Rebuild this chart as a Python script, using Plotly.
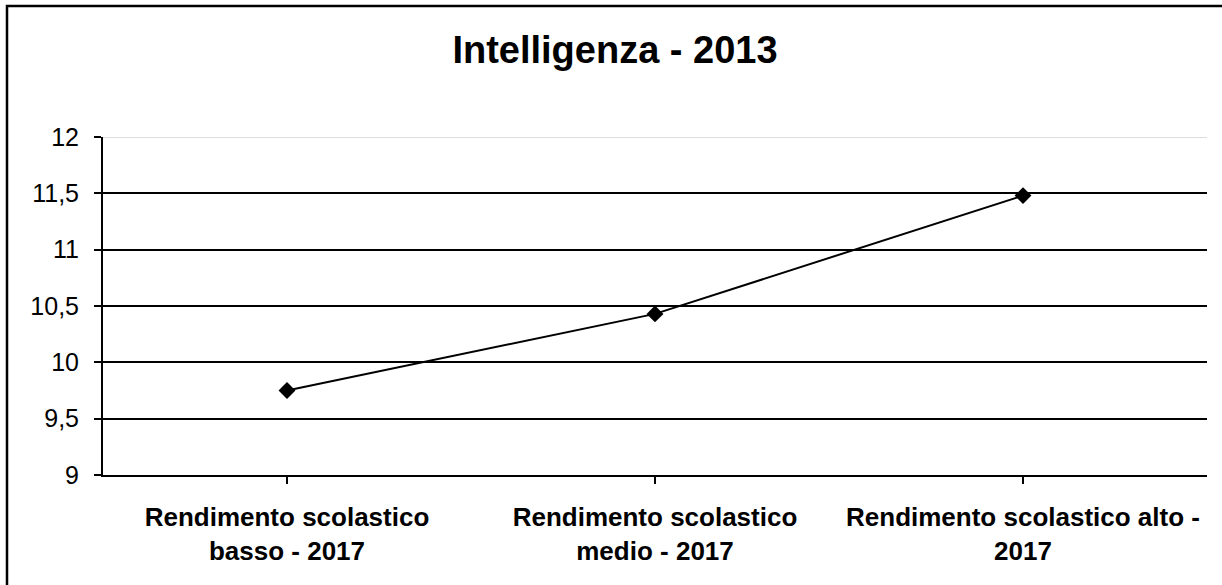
import plotly.graph_objects as go

categories = [
    "Rendimento scolastico<br>basso - 2017",
    "Rendimento scolastico<br>medio - 2017",
    "Rendimento scolastico alto -<br>2017",
]
values = [9.75, 10.43, 11.48]
y_ticks = [9, 9.5, 10, 10.5, 11, 11.5, 12]
y_tick_labels = ["9", "9,5", "10", "10,5", "11", "11,5", "12"]
title_text = "Intelligenza - 2013"

FONT = "Liberation Sans, Arial, sans-serif"

fig = go.Figure()
fig.add_trace(go.Scatter(
    x=list(range(len(categories))),
    y=values,
    mode="lines+markers",
    line=dict(color="black", width=2),
    marker=dict(symbol="diamond", size=13, color="black"),
    showlegend=False,
    hoverinfo="skip",
))

W, H = 1222, 585
ml, mr, mt, mb = 103, 15, 137, 110
pw = W - ml - mr
ph = H - mt - mb

def px_x(p):
    return (p - ml) / pw

def px_y(p):
    return (H - mb - p) / ph

fig.update_layout(
    width=W, height=H,
    margin=dict(l=ml, r=mr, t=mt, b=mb),
    paper_bgcolor="white",
    plot_bgcolor="white",
    font=dict(family=FONT, color="black"),
    title=dict(
        text="<b>" + title_text + "</b>",
        font=dict(size=38, family=FONT, color="black"),
        x=615 / W, xanchor="center", xref="container",
        y=1 - 50 / H, yanchor="middle", yref="container",
    ),
    xaxis=dict(
        range=[-0.5, len(categories) - 0.5],
        tickmode="array",
        tickvals=list(range(len(categories))),
        ticktext=["<b>" + c + "</b>" for c in categories],
        tickson="boundaries",
        ticks="outside", ticklen=7, tickwidth=2, tickcolor="black",
        showline=True, linecolor="black", linewidth=2,
        showgrid=False, zeroline=False,
        tickfont=dict(size=26, family=FONT, color="black"),
        tickangle=0,
        ticklabelstandoff=11,
        fixedrange=True,
    ),
    yaxis=dict(
        range=[9, 12],
        tickmode="array",
        tickvals=y_ticks,
        ticktext=y_tick_labels,
        ticks="outside", ticklen=7, tickwidth=2, tickcolor="black",
        showline=True, linecolor="black", linewidth=2,
        showgrid=True, gridcolor="black", gridwidth=2,
        zeroline=False,
        tickfont=dict(size=25, family=FONT, color="black"),
        ticklabelstandoff=10,
        fixedrange=True,
    ),
    shapes=[
        # light grey top line of plot area at y=12
        dict(type="line", xref="paper", yref="y", x0=0, x1=1, y0=12, y1=12,
             line=dict(color="#dddddd", width=2), layer="above"),
        # chart outer frame (extends beyond right/bottom edges)
        dict(type="rect", xref="paper", yref="paper",
             x0=px_x(7), x1=px_x(1240), y0=px_y(600), y1=px_y(6),
             line=dict(color="black", width=2.5), fillcolor="rgba(0,0,0,0)",
             layer="above"),
    ],
)

fig.write_html(
    "out.html",
    config={"displayModeBar": False},
    post_script="document.body.style.margin='0';document.body.style.overflow='hidden';",
)
